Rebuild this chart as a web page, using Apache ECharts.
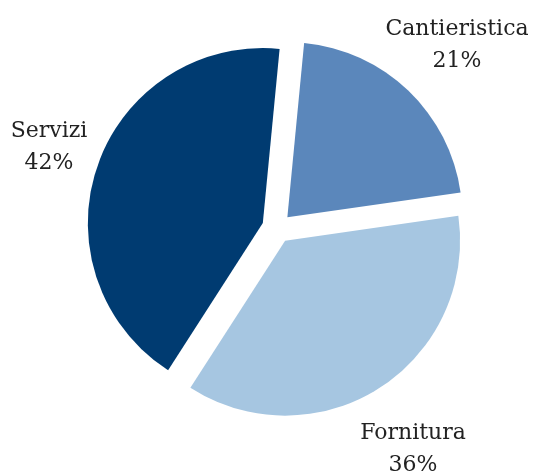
<!DOCTYPE html>
<html>
<head>
<meta charset="utf-8">
<script src="https://cdn.jsdelivr.net/npm/echarts@6/dist/echarts.min.js"></script>
<style>
  html, body { margin: 0; padding: 0; background: #ffffff; }
  #chart { width: 533px; height: 473px; }
</style>
</head>
<body>
<div id="chart"></div>
<script>
// Ripartizione per settore (valori in %)
const categories = ['Cantieristica', 'Fornitura', 'Servizi'];
const values = [21, 36, 42];
const colors = ['#5b87bb', '#a6c6e1', '#003b71'];

// Centres of the two-line text blocks naming each slice
const labelAnchors = [[457, 45], [413, 449], [49, 147]];

const labelFont = {
  fontFamily: 'DejaVu Serif',
  fontSize: 22,
  lineHeight: 32,
  fill: '#222222'
};

const chart = echarts.init(document.getElementById('chart'), null, { renderer: 'canvas' });

chart.setOption({
  animation: false,
  backgroundColor: '#ffffff',
  series: [{
    type: 'pie',
    center: [277, 228],
    radius: [0, 175],
    startAngle: 84.5,
    clockwise: true,
    selectedMode: 'multiple',
    selectedOffset: 15,
    emphasis: { disabled: true },
    itemStyle: { borderWidth: 0 },
    label: { show: false },
    labelLine: { show: false },
    data: categories.map((name, i) => ({
      name: name,
      value: values[i],
      selected: true,
      itemStyle: { color: colors[i] }
    }))
  }],
  graphic: categories.map((name, i) => ({
    type: 'text',
    x: labelAnchors[i][0],
    y: labelAnchors[i][1],
    silent: true,
    style: Object.assign({
      text: name + '\n' + values[i] + '%',
      align: 'center',
      verticalAlign: 'middle'
    }, labelFont)
  }))
});
</script>
</body>
</html>
